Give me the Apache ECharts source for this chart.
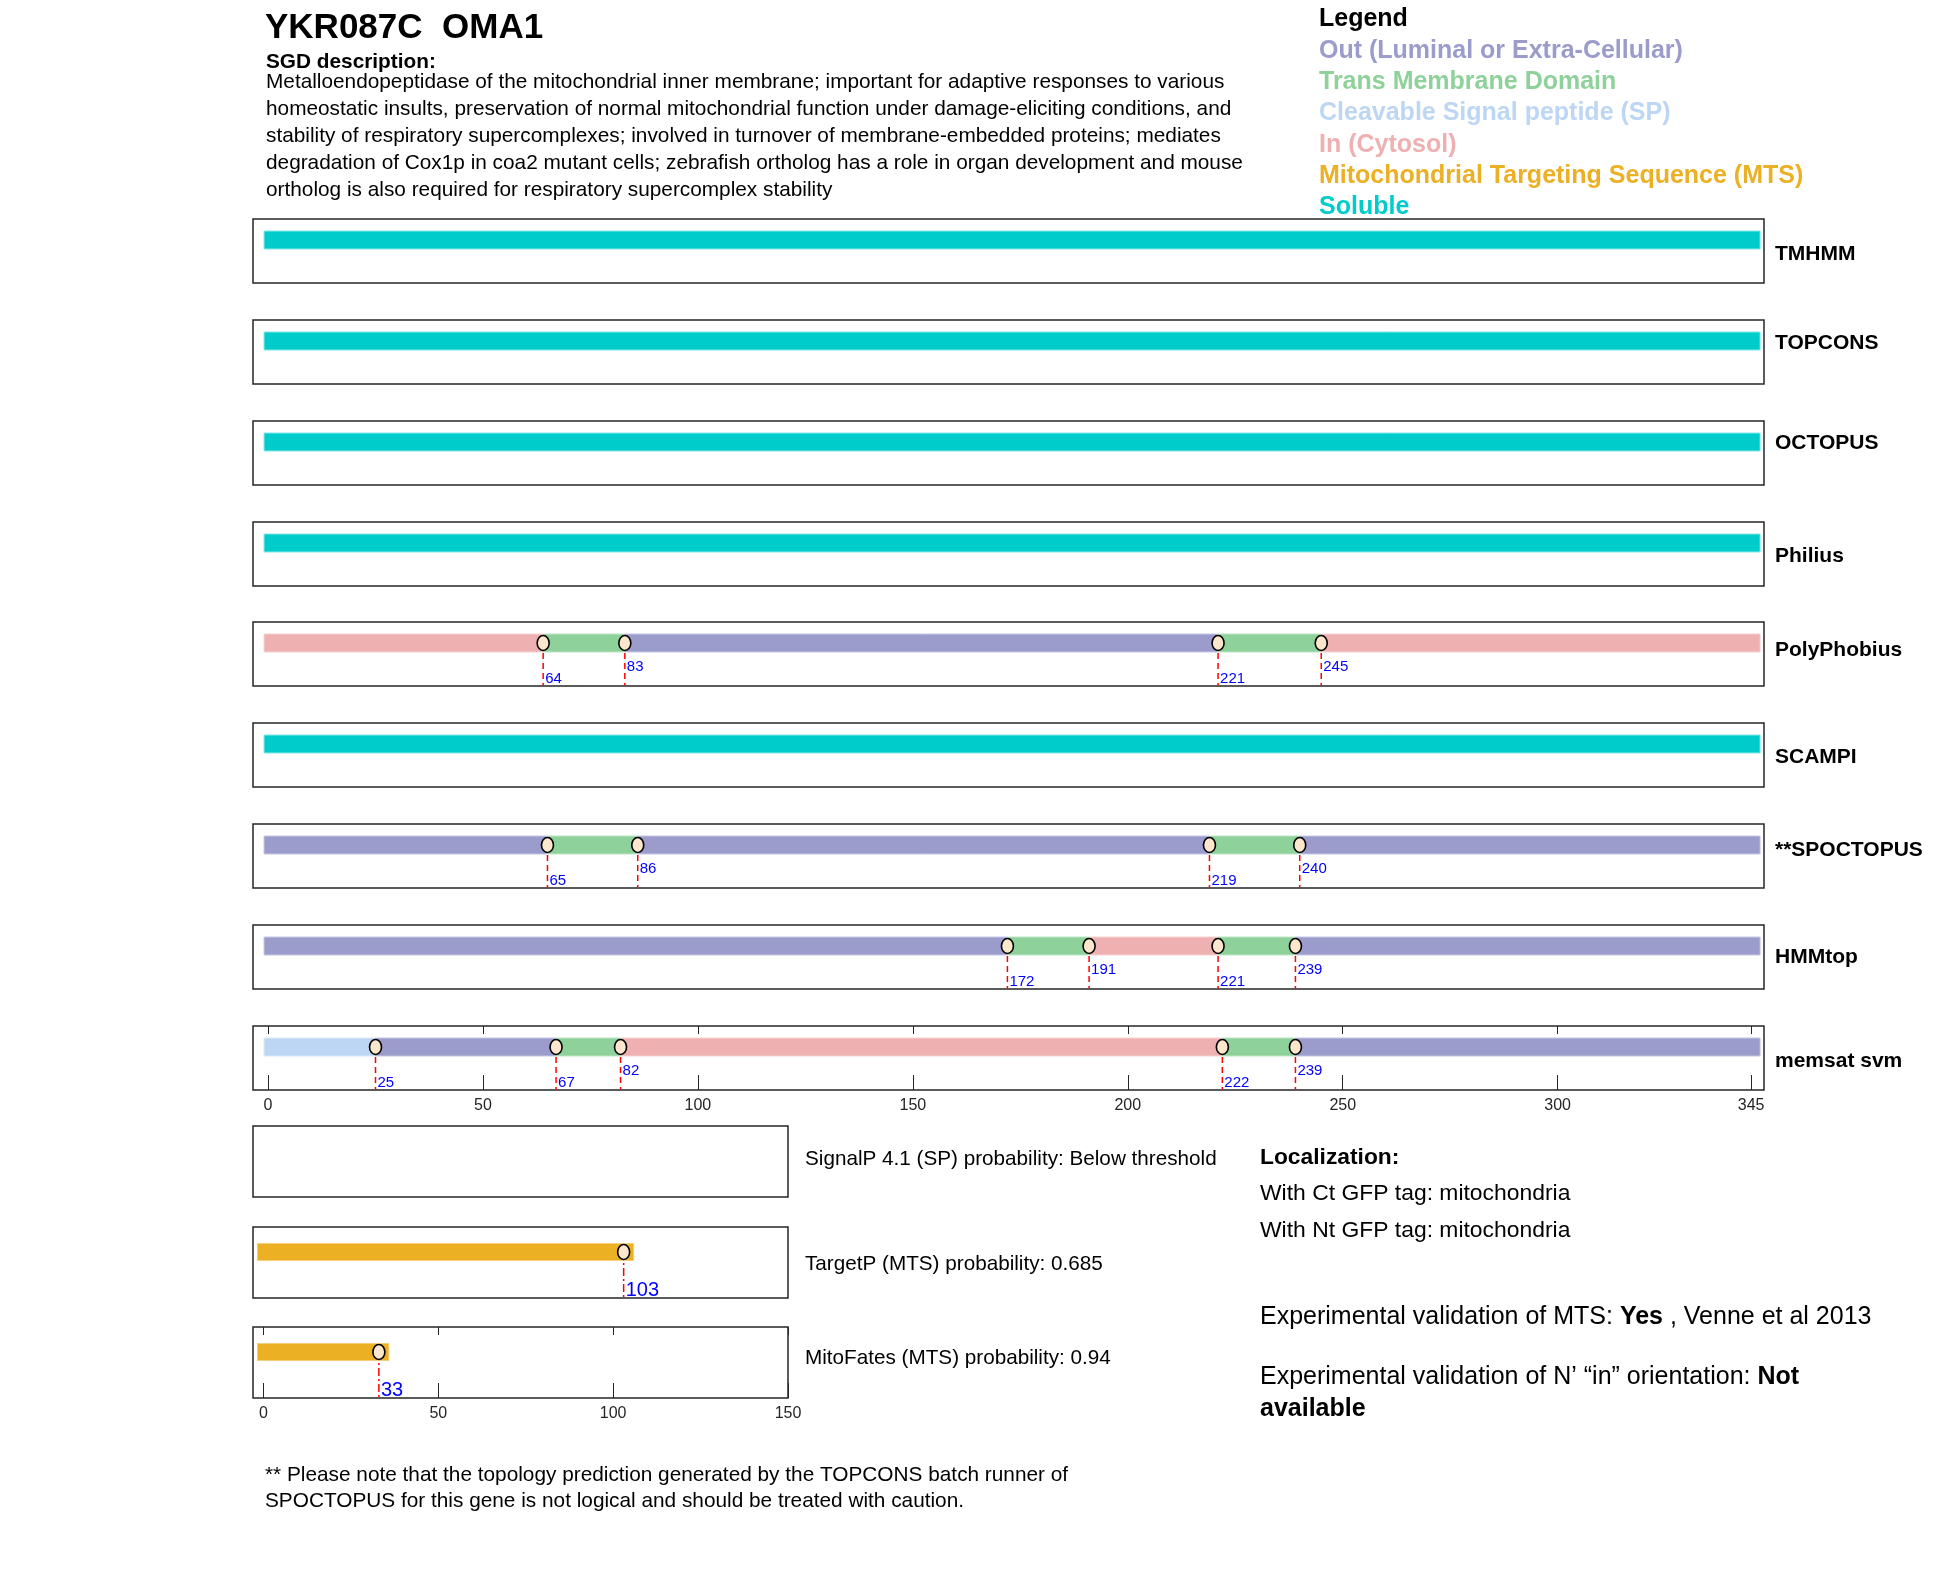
<!DOCTYPE html>
<html><head><meta charset="utf-8">
<script src="https://cdn.jsdelivr.net/npm/echarts@6/dist/echarts.min.js"></script>
<style>html,body{margin:0;padding:0;background:#fff}#c{width:1950px;height:1573px}</style>
</head><body><div id="c"></div><script>
// ---------------- DATA ----------------
const PROTEIN_LENGTH = 345;
const predictorNames = ['TMHMM','TOPCONS','OCTOPUS','Philius','PolyPhobius','SCAMPI','**SPOCTOPUS','HMMtop','memsat svm'];

const tmhmmBoundaries = [];            const tmhmmTopology = ['soluble'];
const topconsBoundaries = [];          const topconsTopology = ['soluble'];
const octopusBoundaries = [];          const octopusTopology = ['soluble'];
const philiusBoundaries = [];          const philiusTopology = ['soluble'];
const polyphobiusBoundaries = [64, 83, 221, 245];
const polyphobiusTopology = ['in','tm','out','tm','in'];
const polyphobiusLabelLow = [1, 0, 1, 0];
const scampiBoundaries = [];           const scampiTopology = ['soluble'];
const spoctopusBoundaries = [65, 86, 219, 240];
const spoctopusTopology = ['out','tm','out','tm','out'];
const spoctopusLabelLow = [1, 0, 1, 0];
const hmmtopBoundaries = [172, 191, 221, 239];
const hmmtopTopology = ['out','tm','in','tm','out'];
const hmmtopLabelLow = [1, 0, 1, 0];
const memsatBoundaries = [25, 67, 82, 222, 239];
const memsatTopology = ['sp','out','tm','in','tm','out'];
const memsatLabelLow = [1, 1, 0, 1, 0];

const sequenceTicks = [0, 50, 100, 150, 200, 250, 300, 345];
const mtsTicks = [0, 50, 100, 150];

const signalpCleavage = [];     // below threshold
const targetpCleavage = [103];
const mitofatesCleavage = [33];
const signalpText = 'SignalP 4.1 (SP) probability: Below threshold';
const targetpText = 'TargetP (MTS) probability: 0.685';
const mitofatesText = 'MitoFates (MTS) probability: 0.94';

const legendLabels = ['Out (Luminal or Extra-Cellular)','Trans Membrane Domain','Cleavable Signal peptide (SP)','In (Cytosol)','Mitochondrial Targeting Sequence (MTS)','Soluble'];
const legendKeys = ['out','tm','sp','in','mts','soluble'];

const descriptionLines = [
 'Metalloendopeptidase of the mitochondrial inner membrane; important for adaptive responses to various',
 'homeostatic insults, preservation of normal mitochondrial function under damage-eliciting conditions, and',
 'stability of respiratory supercomplexes; involved in turnover of membrane-embedded proteins; mediates',
 'degradation of Cox1p in coa2 mutant cells; zebrafish ortholog has a role in organ development and mouse',
 'ortholog is also required for respiratory supercomplex stability'
];

// ---------------- STYLE ----------------
const FONT = "'Liberation Sans', Arial, Helvetica, sans-serif";
const TYPE_KEYS = ['out','tm','sp','in','mts','soluble'];
const FILL = {out:'#9b9bcc', tm:'#8fd19b', sp:'#bcd6f3', in:'#eeb0b1', mts:'#ecb024', soluble:'#00cccc'};
const EDGE = {out:'#c6c6e3', tm:'#bce5c2', sp:'#dae8f8', in:'#f6d2d2', mts:'#f5d07a', soluble:'#86e8e8'};

const mainPanels = [
 {b: tmhmmBoundaries, t: tmhmmTopology, low: []},
 {b: topconsBoundaries, t: topconsTopology, low: []},
 {b: octopusBoundaries, t: octopusTopology, low: []},
 {b: philiusBoundaries, t: philiusTopology, low: []},
 {b: polyphobiusBoundaries, t: polyphobiusTopology, low: polyphobiusLabelLow},
 {b: scampiBoundaries, t: scampiTopology, low: []},
 {b: spoctopusBoundaries, t: spoctopusTopology, low: spoctopusLabelLow},
 {b: hmmtopBoundaries, t: hmmtopTopology, low: hmmtopLabelLow},
 {b: memsatBoundaries, t: memsatTopology, low: memsatLabelLow}
];
const sideLabelOffsets = [35, 23, 22, 34, 28, 34, 26, 32, 35];

function segmentsOf(bounds, topo, len) {
  const edges = [0].concat(bounds, [len]);
  return topo.map((t, k) => [edges[k], edges[k + 1], TYPE_KEYS.indexOf(t), k === 0 ? 1 : 0, k === topo.length - 1 ? 1 : 0]);
}

const grids = [], xAxes = [], yAxes = [], series = [], texts = [];

function hiddenAxis(extra) {
  return Object.assign({type:'value', axisLine:{show:false}, axisTick:{show:false}, axisLabel:{show:false}, splitLine:{show:false}}, extra);
}

function addPanel(cfg) {
  const gi = grids.length;
  grids.push({left: cfg.left, top: cfg.top, width: cfg.width, height: cfg.height, show: true,
    borderColor: '#262626', borderWidth: 1.5, backgroundColor: '#fff', containLabel: false});
  const xi = xAxes.length;
  const xa = hiddenAxis({gridIndex: gi, min: cfg.xmin, max: cfg.xmax, position: 'bottom', axisLine:{show:false, onZero:false}});
  if (cfg.ticks) {
    xa.axisTick = {show: true, inside: true, length: 15, customValues: cfg.ticks, lineStyle: {color: '#262626', width: 1}};
    xa.axisLabel = {show: true, customValues: cfg.ticks, fontSize: 16, fontFamily: FONT, color: '#262626', margin: 8};
  }
  xAxes.push(xa);
  if (cfg.ticks) {
    xAxes.push(hiddenAxis({gridIndex: gi, min: cfg.xmin, max: cfg.xmax, position: 'top', axisLine:{show:false, onZero:false},
      axisTick: {show: true, inside: true, length: 8, customValues: cfg.ticks, lineStyle: {color: '#262626', width: 1}}}));
  }
  yAxes.push(hiddenAxis({gridIndex: gi, min: 0, max: 1}));
  const barY = cfg.barY, barH = cfg.barH, padL = cfg.padL, padR = cfg.padR;
  if (cfg.segs.length) {
    series.push({type: 'custom', xAxisIndex: xi, yAxisIndex: gi, silent: true, z: 2, data: cfg.segs,
      renderItem: function (params, api) {
        const s = api.value(0), e = api.value(1), key = TYPE_KEYS[api.value(2)];
        const p0 = api.coord([s, barY]), p1 = api.coord([e, barY]);
        let x0 = p0[0], x1 = p1[0];
        if (api.value(3) === 1) x0 -= padL;
        if (api.value(4) === 1) x1 += padR;
        return {type: 'rect', shape: {x: x0, y: p0[1] - barH / 2, width: x1 - x0, height: barH},
          style: {fill: FILL[key], stroke: EDGE[key], lineWidth: 1}};
      }});
  }
  if (cfg.cuts.length) {
    const lowY = cfg.lowY, highY = cfg.highY, dash = cfg.dash, fs = cfg.labelSize;
    series.push({type: 'custom', xAxisIndex: xi, yAxisIndex: gi, silent: true, z: 3, data: cfg.cuts,
      renderItem: function (params, api) {
        const v = api.value(0);
        const p = api.coord([v, barY]), b = api.coord([v, 0]);
        const ly = api.coord([v, api.value(1) === 1 ? lowY : highY])[1];
        return {type: 'group', children: [
          {type: 'line', shape: {x1: p[0], y1: p[1], x2: b[0], y2: b[1] - 0.5}, style: {stroke: '#ff0000', lineWidth: 1.5, lineDash: dash}},
          {type: 'text', x: p[0] + 2, y: ly, style: {text: String(v), fill: '#0000ff', fontSize: fs, fontFamily: FONT, align: 'left', verticalAlign: 'middle'}}
        ]};
      }});
    series.push({type: 'custom', xAxisIndex: xi, yAxisIndex: gi, silent: true, z: 4, data: cfg.cuts,
      renderItem: function (params, api) {
        const c = api.coord([api.value(0), barY]);
        return {type: 'ellipse', shape: {cx: c[0], cy: c[1], rx: 6, ry: 7.5}, style: {fill: '#fde7cc', stroke: '#000', lineWidth: 1.6}};
      }});
  }
  return gi;
}

const MAIN_TOP = 219, MAIN_STEP = 100.85, MAIN_H = 64;
mainPanels.forEach((p, i) => {
  const top = Math.round(MAIN_TOP + i * MAIN_STEP);
  addPanel({left: 253, top: top, width: 1511, height: MAIN_H, xmin: -3.5, xmax: 348,
    barY: 1 - 21 / 64, barH: 18, padL: 4, padR: 9, lowY: 7 / 64, highY: 19 / 64, dash: [6, 4], labelSize: 15,
    segs: segmentsOf(p.b, p.t, PROTEIN_LENGTH), cuts: p.b.map((v, k) => [v, p.low[k]]),
    ticks: i === mainPanels.length - 1 ? sequenceTicks : null});
  texts.push({type: 'text', x: 1775, y: top + sideLabelOffsets[i], style: {text: predictorNames[i], fill: '#000',
    font: 'bold 21px ' + FONT, verticalAlign: 'middle'}});
});

const mtsPanels = [
  {cut: signalpCleavage, text: signalpText, ticks: null},
  {cut: targetpCleavage, text: targetpText, ticks: null},
  {cut: mitofatesCleavage, text: mitofatesText, ticks: mtsTicks}
];
const MTS_TOPS = [1126, 1227, 1327];
const MTS_TEXT_Y = [1159, 1264, 1358];
mtsPanels.forEach((p, i) => {
  addPanel({left: 253, top: MTS_TOPS[i], width: 535, height: 71, xmin: -3, xmax: 150,
    barY: 1 - 25 / 71, barH: 17, padL: 6, padR: 10, lowY: 8 / 71, highY: 20 / 71, dash: [8, 3, 2, 3], labelSize: 20,
    segs: p.cut.map(c => [0, c, TYPE_KEYS.indexOf('mts'), 1, 1]), cuts: p.cut.map(c => [c, 1]), ticks: p.ticks});
  texts.push({type: 'text', x: 805, y: MTS_TEXT_Y[i], style: {text: p.text, fill: '#000', font: '20.7px ' + FONT, verticalAlign: 'middle'}});
});

// Header texts
texts.push({type: 'text', x: 265, y: 28, style: {text: 'YKR087C  OMA1', fill: '#000', font: 'bold 35px ' + FONT, verticalAlign: 'middle'}});
texts.push({type: 'text', x: 266, y: 62, style: {text: 'SGD description:', fill: '#000', font: 'bold 20.8px ' + FONT, verticalAlign: 'middle'}});
descriptionLines.forEach((l, k) => texts.push({type: 'text', x: 266, y: 82 + k * 27.1, style: {text: l, fill: '#000', font: '20.8px ' + FONT, verticalAlign: 'middle'}}));
texts.push({type: 'text', x: 1319, y: 19, style: {text: 'Legend', fill: '#000', font: 'bold 25px ' + FONT, verticalAlign: 'middle'}});
legendLabels.forEach((l, k) => texts.push({type: 'text', x: 1319, y: 51 + k * 31.3, style: {text: l, fill: FILL[legendKeys[k]], font: 'bold 25px ' + FONT, verticalAlign: 'middle'}}));

// Localization block
texts.push({type: 'text', x: 1260, y: 1158, style: {text: 'Localization:', fill: '#000', font: 'bold 22.8px ' + FONT, verticalAlign: 'middle'}});
texts.push({type: 'text', x: 1260, y: 1194, style: {text: 'With Ct GFP tag: mitochondria', fill: '#000', font: '22.9px ' + FONT, verticalAlign: 'middle'}});
texts.push({type: 'text', x: 1260, y: 1231, style: {text: 'With Nt GFP tag: mitochondria', fill: '#000', font: '22.9px ' + FONT, verticalAlign: 'middle'}});
const richB = {b: {fontSize: 25, fontFamily: FONT, fontWeight: 'bold', fill: '#000'}, n: {fontSize: 25, fontFamily: FONT, fill: '#000'}};
texts.push({type: 'text', x: 1260, y: 1317, style: {text: '{n|Experimental validation of MTS: }{b|Yes}{n| , Venne et al 2013}', rich: richB, fontSize: 25, fontFamily: FONT, verticalAlign: 'middle'}});
texts.push({type: 'text', x: 1260, y: 1377, style: {text: '{n|Experimental validation of N\u2019 \u201cin\u201d orientation: }{b|Not}', rich: richB, fontSize: 25, fontFamily: FONT, verticalAlign: 'middle'}});
texts.push({type: 'text', x: 1260, y: 1409, style: {text: 'available', fill: '#000', font: 'bold 25px ' + FONT, verticalAlign: 'middle'}});

// Footnote
texts.push({type: 'text', x: 265, y: 1475, style: {text: '** Please note that the topology prediction generated by the TOPCONS batch runner of', fill: '#000', font: '20.8px ' + FONT, verticalAlign: 'middle'}});
texts.push({type: 'text', x: 265, y: 1501, style: {text: 'SPOCTOPUS for this gene is not logical and should be treated with caution.', fill: '#000', font: '20.8px ' + FONT, verticalAlign: 'middle'}});

const chart = echarts.init(document.getElementById('c'), null, {renderer: 'canvas', width: 1950, height: 1573});
chart.setOption({
  animation: false,
  backgroundColor: '#fff',
  grid: grids, xAxis: xAxes, yAxis: yAxes, series: series,
  graphic: {elements: texts}
});
</script></body></html>
